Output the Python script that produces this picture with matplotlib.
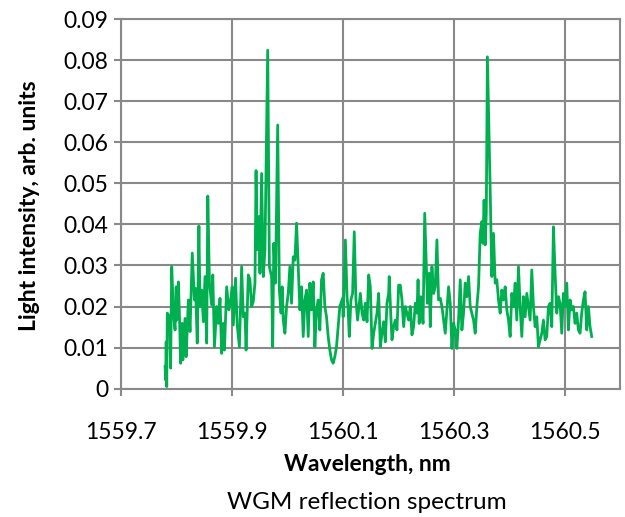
import matplotlib
matplotlib.use("Agg")
import matplotlib.pyplot as plt
import numpy as np

wavelength = [
    1559.780, 1559.781, 1559.782, 1559.783, 1559.784, 1559.788, 1559.790, 1559.792, 1559.795, 1559.798,
    1559.800, 1559.801, 1559.804, 1559.806, 1559.808, 1559.811, 1559.812, 1559.816, 1559.818, 1559.822,
    1559.825, 1559.829, 1559.833, 1559.835, 1559.838, 1559.841, 1559.843, 1559.846, 1559.849, 1559.852,
    1559.855, 1559.857, 1559.860, 1559.864, 1559.866, 1559.869, 1559.873, 1559.876, 1559.879, 1559.882,
    1559.885, 1559.887, 1559.891, 1559.895, 1559.898, 1559.901, 1559.903, 1559.907, 1559.910, 1559.914,
    1559.918, 1559.921, 1559.924, 1559.926, 1559.930, 1559.933, 1559.936, 1559.939, 1559.942, 1559.944,
    1559.946, 1559.949, 1559.951, 1559.954, 1559.957, 1559.960, 1559.965, 1559.968, 1559.972, 1559.974,
    1559.976, 1559.979, 1559.983, 1559.986, 1559.989, 1559.991, 1559.993, 1559.996, 1559.999, 1560.002,
    1560.005, 1560.008, 1560.011, 1560.014, 1560.017, 1560.020, 1560.023, 1560.026, 1560.029, 1560.032,
    1560.035, 1560.038, 1560.041, 1560.044, 1560.047, 1560.050, 1560.053, 1560.056, 1560.059, 1560.062,
    1560.065, 1560.068, 1560.071, 1560.074, 1560.077, 1560.080, 1560.083, 1560.086, 1560.089, 1560.092,
    1560.095, 1560.100, 1560.101, 1560.105, 1560.108, 1560.110, 1560.112, 1560.115, 1560.118, 1560.121,
    1560.124, 1560.127, 1560.132, 1560.135, 1560.138, 1560.141, 1560.144, 1560.147, 1560.150, 1560.153,
    1560.156, 1560.159, 1560.162, 1560.165, 1560.168, 1560.171, 1560.174, 1560.177, 1560.180, 1560.183,
    1560.184, 1560.187, 1560.189, 1560.192, 1560.195, 1560.198, 1560.201, 1560.204, 1560.207, 1560.210,
    1560.213, 1560.216, 1560.219, 1560.222, 1560.225, 1560.228, 1560.231, 1560.234, 1560.236, 1560.238,
    1560.241, 1560.245, 1560.248, 1560.251, 1560.253, 1560.256, 1560.258, 1560.261, 1560.264, 1560.267,
    1560.270, 1560.273, 1560.276, 1560.279, 1560.282, 1560.285, 1560.288, 1560.291, 1560.294, 1560.297,
    1560.300, 1560.303, 1560.306, 1560.309, 1560.312, 1560.315, 1560.318, 1560.321, 1560.324, 1560.327,
    1560.330, 1560.333, 1560.336, 1560.339, 1560.342, 1560.345, 1560.348, 1560.351, 1560.353, 1560.355,
    1560.357, 1560.359, 1560.361, 1560.366, 1560.369, 1560.372, 1560.375, 1560.378, 1560.381, 1560.384,
    1560.387, 1560.390, 1560.393, 1560.396, 1560.399, 1560.402, 1560.405, 1560.408, 1560.411, 1560.414,
    1560.417, 1560.420, 1560.423, 1560.426, 1560.429, 1560.432, 1560.435, 1560.438, 1560.441, 1560.444,
    1560.447, 1560.450, 1560.453, 1560.456, 1560.459, 1560.462, 1560.465, 1560.468, 1560.471, 1560.474,
    1560.477, 1560.480, 1560.483, 1560.486, 1560.489, 1560.492, 1560.495, 1560.498, 1560.501, 1560.504,
    1560.507, 1560.510, 1560.513, 1560.516, 1560.519, 1560.522, 1560.525, 1560.528, 1560.531, 1560.534,
    1560.537, 1560.540, 1560.543, 1560.546, 1560.549,
]

intensity = [
    0.0054, 0.0021, 0.0114, 0.0005, 0.0184, 0.0175, 0.0050, 0.0297, 0.0184, 0.0143,
    0.0248, 0.0167, 0.0260, 0.0175, 0.0062, 0.0159, 0.0070, 0.0171, 0.0078, 0.0216,
    0.0139, 0.0330, 0.0216, 0.0244, 0.0111, 0.0396, 0.0200, 0.0240, 0.0163, 0.0273,
    0.0111, 0.0469, 0.0257, 0.0204, 0.0277, 0.0102, 0.0200, 0.0159, 0.0220, 0.0086,
    0.0159, 0.0094, 0.0248, 0.0192, 0.0212, 0.0248, 0.0155, 0.0269, 0.0155, 0.0102,
    0.0297, 0.0175, 0.0184, 0.0094, 0.0277, 0.0265, 0.0200, 0.0212, 0.0257, 0.0531,
    0.0338, 0.0419, 0.0281, 0.0524, 0.0273, 0.0338, 0.0824, 0.0297, 0.0273, 0.0102,
    0.0354, 0.0257, 0.0642, 0.0240, 0.0184, 0.0248, 0.0167, 0.0135, 0.0200, 0.0232,
    0.0297, 0.0208, 0.0321, 0.0313, 0.0403, 0.0297, 0.0192, 0.0248, 0.0127, 0.0216,
    0.0240, 0.0127, 0.0257, 0.0192, 0.0260, 0.0102, 0.0192, 0.0216, 0.0143, 0.0265,
    0.0281, 0.0200, 0.0175, 0.0127, 0.0094, 0.0070, 0.0062, 0.0078, 0.0102, 0.0151,
    0.0200, 0.0220, 0.0175, 0.0362, 0.0224, 0.0192, 0.0127, 0.0216, 0.0232, 0.0382,
    0.0216, 0.0167, 0.0232, 0.0184, 0.0167, 0.0208, 0.0163, 0.0277, 0.0248, 0.0098,
    0.0135, 0.0159, 0.0184, 0.0232, 0.0102, 0.0135, 0.0163, 0.0114, 0.0208, 0.0232,
    0.0273, 0.0175, 0.0119, 0.0151, 0.0167, 0.0143, 0.0252, 0.0252, 0.0216, 0.0151,
    0.0200, 0.0184, 0.0167, 0.0200, 0.0131, 0.0151, 0.0208, 0.0184, 0.0265, 0.0159,
    0.0224, 0.0159, 0.0427, 0.0297, 0.0208, 0.0281, 0.0151, 0.0297, 0.0232, 0.0248,
    0.0362, 0.0216, 0.0220, 0.0200, 0.0167, 0.0135, 0.0192, 0.0248, 0.0208, 0.0098,
    0.0159, 0.0143, 0.0098, 0.0167, 0.0265, 0.0143, 0.0184, 0.0257, 0.0224, 0.0273,
    0.0200, 0.0184, 0.0167, 0.0135, 0.0200, 0.0248, 0.0378, 0.0407, 0.0354, 0.0459,
    0.0350, 0.0427, 0.0808, 0.0484, 0.0273, 0.0378, 0.0257, 0.0265, 0.0216, 0.0184,
    0.0240, 0.0216, 0.0248, 0.0192, 0.0167, 0.0127, 0.0232, 0.0200, 0.0257, 0.0167,
    0.0297, 0.0200, 0.0127, 0.0224, 0.0175, 0.0232, 0.0200, 0.0167, 0.0289, 0.0200,
    0.0151, 0.0175, 0.0102, 0.0119, 0.0135, 0.0167, 0.0119, 0.0127, 0.0200, 0.0208,
    0.0151, 0.0394, 0.0281, 0.0184, 0.0224, 0.0208, 0.0135, 0.0232, 0.0200, 0.0257,
    0.0143, 0.0216, 0.0192, 0.0200, 0.0159, 0.0184, 0.0143, 0.0135, 0.0184, 0.0216,
    0.0236, 0.0143, 0.0200, 0.0151, 0.0127,
]

x_ticks = [1559.7, 1559.9, 1560.1, 1560.3, 1560.5]
x_tick_labels = ["1559.7", "1559.9", "1560.1", "1560.3", "1560.5"]
y_ticks = [0, 0.01, 0.02, 0.03, 0.04, 0.05, 0.06, 0.07, 0.08, 0.09]
y_tick_labels = ["0", "0.01", "0.02", "0.03", "0.04", "0.05", "0.06", "0.07", "0.08", "0.09"]

x_title = "Wavelength, nm"
y_title = "Light intensity, arb. units"
caption = "WGM reflection spectrum"

plt.rcParams['font.family'] = ['Lato', 'DejaVu Sans']

grid_color = "#898989"
line_color = "#00B050"

fig = plt.figure(figsize=(6.25, 5.17), dpi=100)
ax = fig.add_axes([0.1931, 0.2482, 0.7989, 0.7150])

ax.plot(wavelength, intensity, color=line_color, lw=2.0, solid_joinstyle='round', zorder=3)

ax.set_xlim(1559.7, 1560.6)
ax.set_ylim(0, 0.09)
ax.set_xticks(x_ticks)
ax.set_xticklabels(x_tick_labels)
ax.set_yticks(y_ticks)
ax.set_yticklabels(y_tick_labels)

ax.grid(True, color=grid_color, lw=1.5, zorder=0)
ax.set_axisbelow(True)
for s in ax.spines.values():
    s.set_color(grid_color)
    s.set_linewidth(1.5)

ax.tick_params(axis='both', direction='out', length=5, width=1.5, color=grid_color,
               labelsize=16.5, labelcolor='black')
ax.tick_params(axis='x', pad=19)
ax.tick_params(axis='y', pad=4)

fig.text(0.5872, 0.1006, x_title, ha='center', va='center', fontsize=16.5, fontweight='bold')
fig.text(0.5872, 0.028, caption, ha='center', va='center', fontsize=17.5)
fig.text(0.048, 0.603, y_title, ha='center', va='center', rotation=90,
         fontsize=16.5, fontweight='bold')

fig.savefig("out.png", dpi=100)
